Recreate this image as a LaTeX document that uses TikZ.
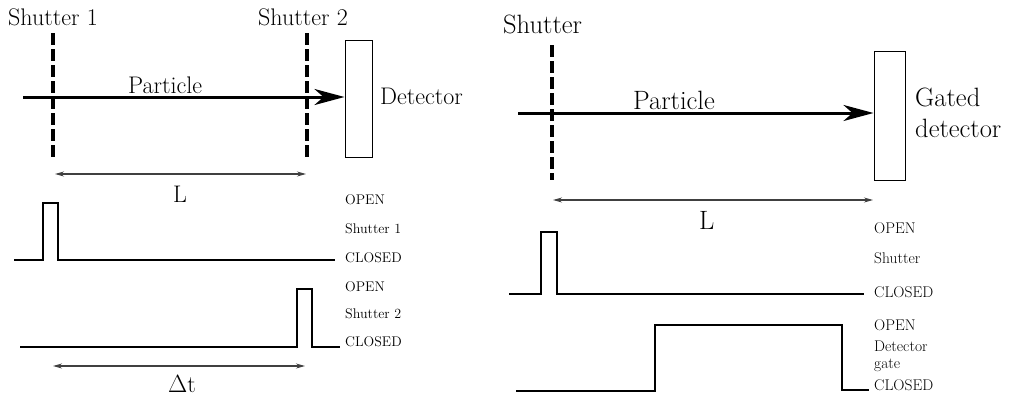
\documentclass[tikz,border=0pt]{standalone}
\usetikzlibrary{arrows.meta}
\begin{document}
\begin{tikzpicture}[x=1pt,y=-1pt,
  bigL/.style={font=\fontsize{24}{28}\selectfont, inner sep=0pt, anchor=base west},
  bigR/.style={font=\fontsize{26.5}{30}\selectfont, inner sep=0pt, anchor=base west},
  smallL/.style={font=\fontsize{14}{16}\selectfont, inner sep=0pt, anchor=base west},
  smallR/.style={font=\fontsize{15.5}{18}\selectfont, inner sep=0pt, anchor=base west},
  shutterline/.style={line width=3.2pt, dash pattern=on 12pt off 4pt},
  beam/.style={line width=3pt, -{Stealth[length=30pt, width=16pt, inset=9pt]}},
  detbox/.style={draw, line width=1pt, inner sep=0pt},
  dist/.style={line width=1.1pt, draw=black!75, {Stealth[length=9pt,width=5pt]}-{Stealth[length=9pt,width=5pt]}},
  pulse/.style={line width=1.15pt, line join=miter}
]
\useasboundingbox (0,0) rectangle (1018,397);

% ---------------- Left panel ----------------
\node[bigL] (s1lab) at (8,25) {Shutter 1};
\node[bigL] (s2lab) at (258,25) {Shutter 2};
\coordinate (s1top) at (53,33);
\coordinate (s1bot) at (53,157);
\coordinate (s2top) at (307,33);
\coordinate (s2bot) at (307,157);
\draw[shutterline] (s1top) -- (s1bot);
\draw[shutterline] (s2top) -- (s2bot);
\node[detbox, minimum width=27pt, minimum height=117pt] (detL) at (358.5,98.5) {};
\coordinate (beamLstart) at (23,97);
\draw[beam] (beamLstart) -- (detL.west |- beamLstart);
\node[bigL] (partL) at (128,93) {Particle};
\node[bigL] (detLlab) at (380,104) {Detector};
\coordinate (Lla) at (55,174);
\coordinate (Llb) at (306,174);
\draw[dist] (Lla) -- (Llb);
\node[bigL] (LlabL) at (173,202) {L};

% timing shutter 1
\coordinate (p1a) at (14,260);
\draw[pulse] (p1a) -- (43,260) -- (43,203) -- (58,203) -- (58,260) -- (335,260);
\node[smallL] (op1) at (345,204) {OPEN};
\node[smallL] (sh1) at (345,233) {Shutter 1};
\node[smallL] (cl1) at (345,262) {CLOSED};

% timing shutter 2
\coordinate (p2a) at (20,347);
\draw[pulse] (p2a) -- (297,347) -- (297,289) -- (312,289) -- (312,347) -- (340,347);
\node[smallL] (op2) at (345,291) {OPEN};
\node[smallL] (sh2) at (345,318) {Shutter 2};
\node[smallL] (cl2) at (345,346) {CLOSED};

\coordinate (dta) at (53,366);
\coordinate (dtb) at (305,366);
\draw[dist] (dta) -- (dtb);
\node[bigL] (dtlab) at (168,392) {$\Delta$t};

% ---------------- Right panel ----------------
\node[bigR] (shRlab) at (503,33) {Shutter};
\coordinate (sRtop) at (552,45);
\coordinate (sRbot) at (552,180);
\draw[shutterline] (sRtop) -- (sRbot);
\node[detbox, minimum width=31pt, minimum height=129pt] (detR) at (889.5,115.5) {};
\coordinate (beamRstart) at (518,113);
\draw[beam] (beamRstart) -- (detR.west |- beamRstart);
\node[bigR] (partR) at (633,109) {Particle};
\node[bigR] (gated) at (915,106) {Gated};
\node[bigR] (detRlab) at (915,137) {detector};
\coordinate (LRa) at (553,200);
\coordinate (LRb) at (873,200);
\draw[dist] (LRa) -- (LRb);
\node[bigR] (LlabR) at (699,229) {L};

% timing shutter
\coordinate (p3a) at (509,294);
\draw[pulse] (p3a) -- (541,294) -- (541,232) -- (557,232) -- (557,294) -- (864,294);
\node[smallR] (op3) at (874,233) {OPEN};
\node[smallR] (sh3) at (874,263) {Shutter};
\node[smallR] (cl3) at (874,297) {CLOSED};

% detector gate
\coordinate (p4a) at (516,391);
\draw[pulse] (p4a) -- (655,391) -- (655,325) -- (842,325) -- (842,390) -- (869,390);
\node[smallR] (op4) at (874,330) {OPEN};
\node[smallR] (dg1) at (874,351) {Detector};
\node[smallR] (dg2) at (874,368) {gate};
\node[smallR] (cl4) at (874,390) {CLOSED};
\end{tikzpicture}
\end{document}
